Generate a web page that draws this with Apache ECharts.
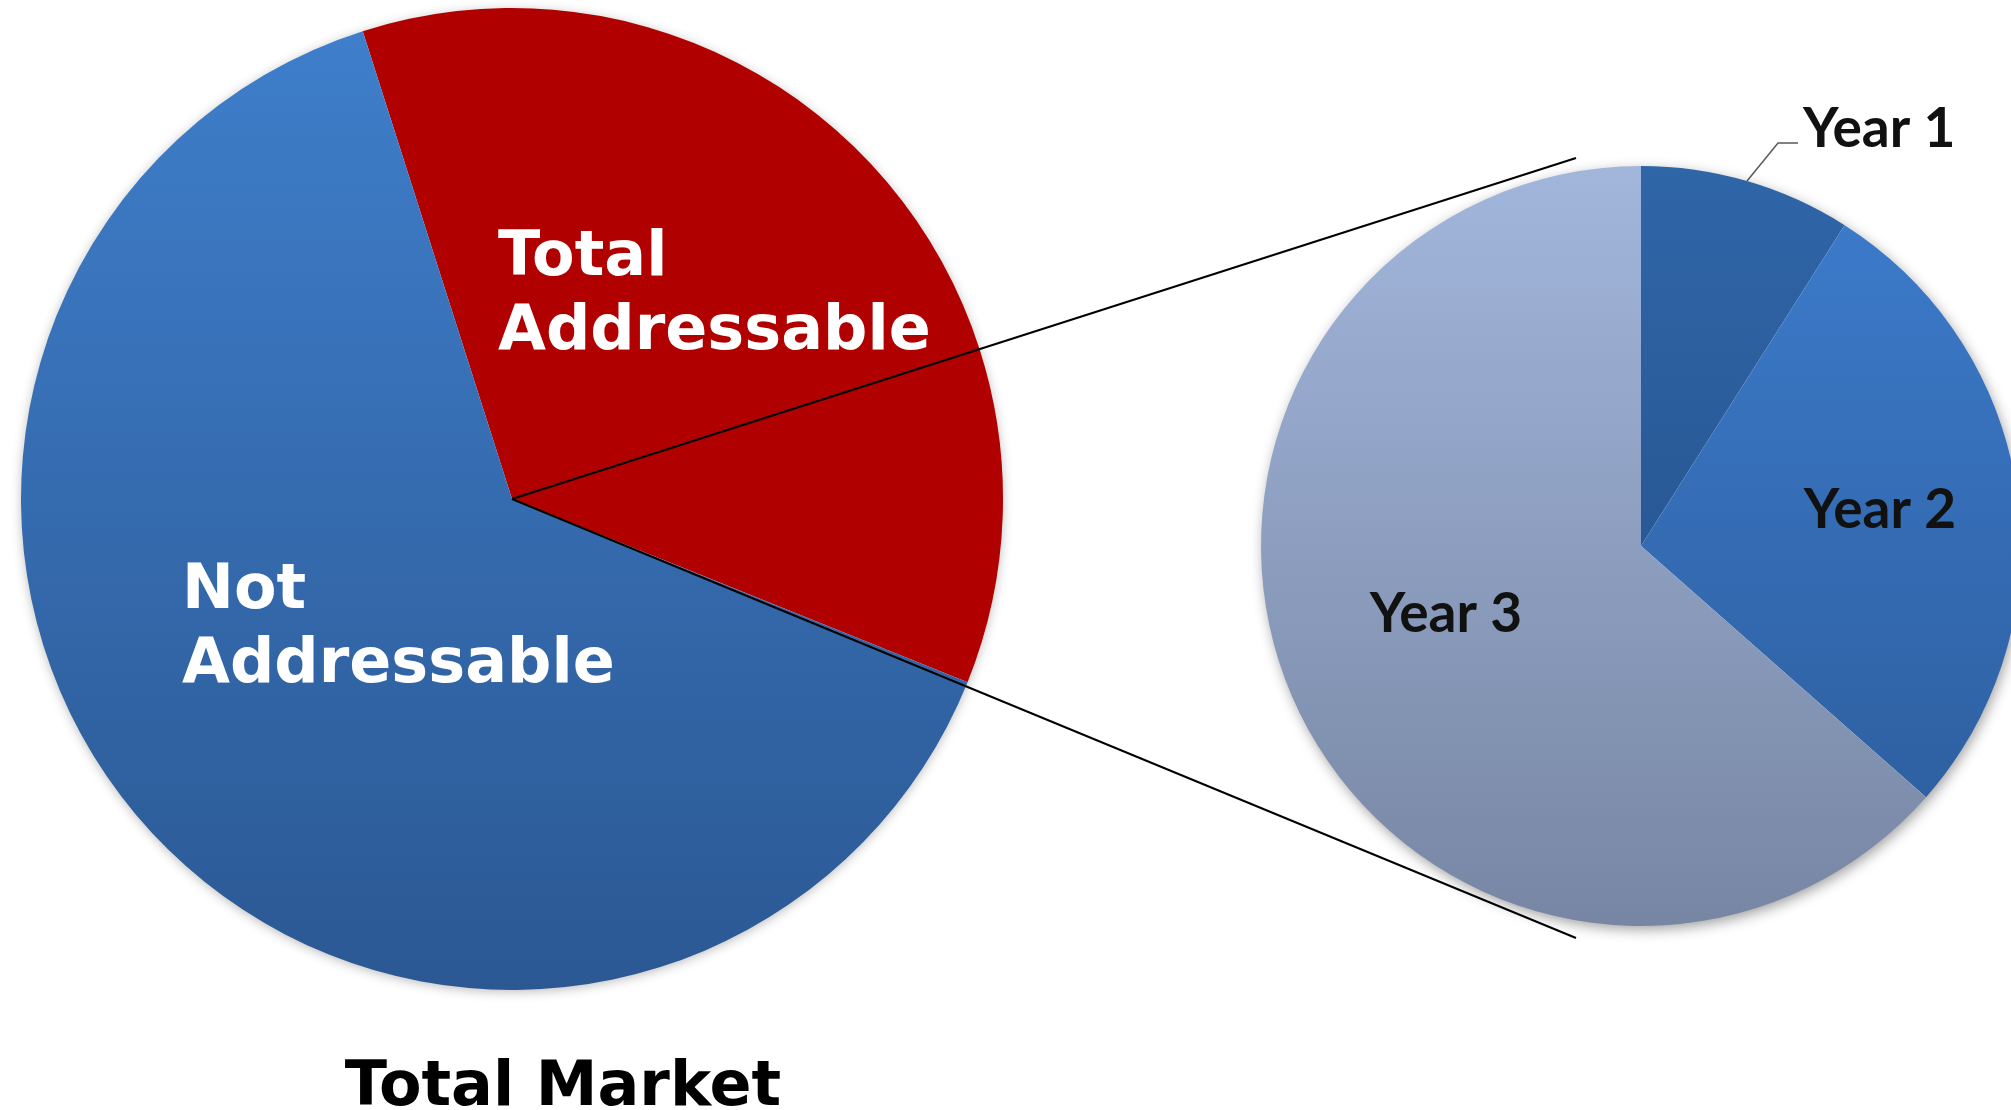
<!DOCTYPE html>
<html>
<head>
<meta charset="utf-8">
<script src="https://cdn.jsdelivr.net/npm/echarts@6/dist/echarts.min.js"></script>
<style>
  html, body { margin: 0; padding: 0; background: #fff; }
  #chart { width: 2011px; height: 1110px; }
</style>
</head>
<body>
<div id="chart"></div>
<script>
// data (shares in percent)
var marketNames = ['Total Addressable', 'Not Addressable'];
var marketLabels = ['Total\nAddressable', 'Not\nAddressable'];
var marketValues = [36, 64];
var yearNames = ['Year 1', 'Year 2', 'Year 3'];
var yearValues = [9, 27.5, 63.5];
var chartTitle = 'Total Market';

// layout of the two pies
var L = { cx: 512, cy: 499, r: 491 };
var R = { cx: 1641, cy: 546, r: 380 };

function vGrad(c, top, bottom) {
  return new echarts.graphic.LinearGradient(0, c.cy - c.r, 0, c.cy + c.r,
    [{ offset: 0, color: top }, { offset: 1, color: bottom }], true);
}

var marketColors = ['#b00000', vGrad(L, '#3f7fcc', '#2b5893')];
var yearColors = [
  vGrad(R, '#2f66a8', '#224b82'),
  vGrad(R, '#3d7ccd', '#2b5b99'),
  vGrad(R, '#a2b6dc', '#7786a3')
];

var chart = echarts.init(document.getElementById('chart'));

var bigFont = { fontFamily: 'DejaVu Sans', fontWeight: 'bold', fontSize: 62, lineHeight: 74 };

var option = {
  animation: false,
  title: {
    text: chartTitle,
    left: L.cx + 51,
    top: 1058,
    padding: 0,
    textAlign: 'center',
    textStyle: { fontFamily: 'DejaVu Sans', fontWeight: 'bold', fontSize: 62, color: '#000' }
  },
  graphic: {
    elements: [
      { type: 'circle', z: 0, silent: true, shape: { cx: L.cx, cy: L.cy, r: L.r - 1 },
        style: { fill: '#fff', shadowBlur: 12, shadowColor: 'rgba(0,0,0,0.3)', shadowOffsetY: 2 } },
      { type: 'circle', z: 0, silent: true, shape: { cx: R.cx, cy: R.cy, r: R.r - 1 },
        style: { fill: '#fff', shadowBlur: 14, shadowColor: 'rgba(0,0,0,0.4)', shadowOffsetX: 2, shadowOffsetY: 4 } },
      // connector lines from the big pie centre toward the breakdown pie
      { type: 'line', z: 100, silent: true,
        shape: { x1: L.cx, y1: L.cy, x2: R.cx - 65, y2: R.cy - 388 },
        style: { stroke: '#000', lineWidth: 2 } },
      { type: 'line', z: 100, silent: true,
        shape: { x1: L.cx, y1: L.cy, x2: R.cx - 65, y2: R.cy + 392 },
        style: { stroke: '#000', lineWidth: 2 } }
    ]
  },
  series: [
    {
      type: 'pie',
      silent: true,
      center: [L.cx, L.cy],
      radius: [0, L.r],
      startAngle: 107.7,
      clockwise: true,
      avoidLabelOverlap: false,
      data: marketNames.map(function (n, i) {
        return { name: n, value: marketValues[i], itemStyle: { color: marketColors[i] } };
      }),
      label: Object.assign({
        show: true,
        position: 'inside',
        color: '#fff',
        align: 'left',
        formatter: function (p) { return marketLabels[p.dataIndex]; }
      }, bigFont),
      labelLine: { show: false },
      labelLayout: function (p) {
        var pos = p.dataIndex === 0 ? [L.cx - 14, L.cy - 203] : [L.cx - 330, L.cy + 130];
        return { x: pos[0], y: pos[1], align: 'left', verticalAlign: 'middle' };
      }
    },
    {
      type: 'pie',
      silent: true,
      center: [R.cx, R.cy],
      radius: [0, R.r],
      startAngle: 90,
      clockwise: true,
      avoidLabelOverlap: false,
      data: yearNames.map(function (n, i) {
        var d = { name: n, value: yearValues[i], itemStyle: { color: yearColors[i] } };
        if (i === 0) {
          d.label = { position: 'outside' };
          d.labelLine = { show: true, length: 40, length2: 20 };
        }
        return d;
      }),
      label: {
        show: true,
        position: 'inside',
        color: '#111',
        fontFamily: 'Lato',
        fontWeight: 'bold',
        fontSize: 55,
        formatter: '{b}'
      },
      labelLine: { show: false, lineStyle: { color: '#595959', width: 1.5 } },
      labelLayout: function (p) {
        if (p.dataIndex === 0) {
          var sum = yearValues.reduce(function (a, b) { return a + b; }, 0);
          var a = yearValues[0] / sum * Math.PI;
          var p0 = [R.cx + R.r * Math.sin(a), R.cy - R.r * Math.cos(a)];
          var p1 = [p0[0] + 31, p0[1] - 38];
          var p2 = [p1[0] + 20, p1[1]];
          return {
            x: p2[0] + 5, y: p1[1] - 14, align: 'left', verticalAlign: 'middle',
            labelLinePoints: [p0, p1, p2]
          };
        }
        var pos = p.dataIndex === 1 ? [R.cx + 239, R.cy - 36] : [R.cx - 195, R.cy + 68];
        return { x: pos[0], y: pos[1], align: 'center', verticalAlign: 'middle' };
      }
    }
  ]
};

chart.setOption(option);
</script>
</body>
</html>
